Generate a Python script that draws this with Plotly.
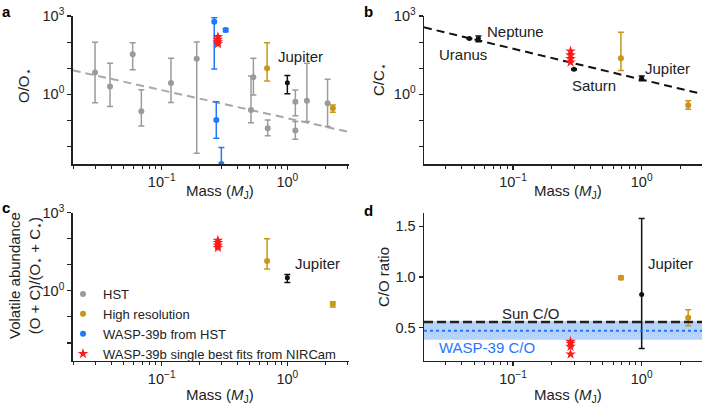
import plotly.graph_objects as go
import numpy as np

# ---------------- data ----------------
# Panel a: O/O*
hst_mass = [0.0295, 0.0388, 0.0588, 0.0689, 0.1186, 0.19, 0.537, 0.514, 0.698, 1.158, 1.158, 1.43, 2.09]
hst_oo = [6.8, 2.0, 34, 0.223, 2.7, 23, 4.48, 0.25, 0.05, 0.52, 0.041, 0.57, 0.45]
hst_oo_lo = [0.48, 0.34, 8.8, 0.061, 0.49, 0.0055, 0.94, 0.082, 0.026, 0.152, 0.019, 0.09, 0.058]
hst_oo_hi = [98, 15.4, 95, 1.51, 23.9, 100, 24, 5.0, 0.104, 1.47, 0.09, 15.4, 3.75]

w39_hst_mass = [0.262, 0.323, 0.272, 0.2985]
w39_hst_oo = [607, 290, 0.104, 0.00214]
w39_hst_oo_lo = [9.3, 250, 0.0206, 0.0005]
w39_hst_oo_hi = [863, 330, 0.52, 0.0091]

hr_mass = [0.69, 2.3]
hr_oo = [9.9, 0.29]
hr_oo_lo = [3.2, 0.205]
hr_oo_hi = [95, 0.39]

jup_mass = [1.0]
jup_oo = [2.8]
jup_oo_lo = [1.06]
jup_oo_hi = [5.2]

nircam_mass = [0.28, 0.28, 0.28, 0.28]
nircam_oo = [160, 125, 100, 85]

fit_a_mass = [0.0196, 3.11]
fit_a_oo = [8.3, 0.036]

# Panel b: C/C*
ss_mass = [0.0458, 0.0538, 0.298, 1.0]   # Uranus, Neptune, Saturn, Jupiter
ss_cc = [136, 136, 9.1, 4.1]
ss_cc_lo = [131, 104, 8.6, 3.34]
ss_cc_hi = [141, 171, 9.6, 5.04]
hr_cc = [23.9, 0.38]
hr_cc_lo = [8.1, 0.27]
hr_cc_hi = [237, 0.57]
nircam_cc = [45, 32, 23, 17]
fit_b_mass = [0.0203, 2.94]
fit_b_cc = [368, 1.03]

# Panel c: volatile abundance
hr_vol = [13.7, 0.31]
hr_vol_lo = [6.8, 0.24]
hr_vol_hi = [98, 0.38]
jup_vol = [3.15]
jup_vol_lo = [2.08]
jup_vol_hi = [4.2]
nircam_vol = [85, 70, 55, 45]

# Panel d: C/O ratio
hr_co = [0.993, 0.598]
hr_co_lo = [0.975, 0.52]
hr_co_hi = [1.01, 0.676]
jup_co = [0.827]
jup_co_lo = [0.294]
jup_co_hi = [1.578]
nircam_co = [0.363, 0.345, 0.314, 0.239]
sun_co = 0.556
wasp39_co = 0.47
wasp39_co_lo = 0.38
wasp39_co_hi = 0.565

# ---------------- style ----------------
FONT = "Liberation Sans, Arial, sans-serif"
GRAY = "#9b9b9b"
GOLD = "#c9961a"
BLUE = "#1f78ff"
RED = "#ff1a1a"
BLACK = "#111111"
AX = "#222222"

fig = go.Figure()


def err(y, lo, hi):
    y = np.array(y, float)
    return dict(type="data", symmetric=False, array=list(np.array(hi) - y),
                arrayminus=list(y - np.array(lo)), thickness=1.5, width=3)


def pts(x, y, lo, hi, color, size, xa, ya, name=None, legend=False, rank=None):
    e = err(y, lo, hi)
    e["color"] = color
    fig.add_trace(go.Scatter(x=x, y=y, mode="markers", error_y=e,
                             marker=dict(color=color, size=size),
                             xaxis=xa, yaxis=ya, name=name, showlegend=legend,
                             legendrank=rank))


def stars(x, y, xa, ya, legend=False):
    fig.add_trace(go.Scatter(x=x, y=y, mode="markers",
                             marker=dict(symbol="star", color=RED, size=8, line=dict(width=0)),
                             xaxis=xa, yaxis=ya, name="WASP-39b single best fits from NIRCam",
                             showlegend=legend, legendrank=4))


# panel a
fig.add_trace(go.Scatter(x=fit_a_mass, y=fit_a_oo, mode="lines", xaxis="x", yaxis="y",
                         line=dict(color="#a8a8a8", width=2, dash="8px,5px"), showlegend=False))
pts(hst_mass, hst_oo, hst_oo_lo, hst_oo_hi, GRAY, 6, "x", "y", "HST", True, 1)
pts(w39_hst_mass, w39_hst_oo, w39_hst_oo_lo, w39_hst_oo_hi, BLUE, 6, "x", "y", "WASP-39b from HST", True, 3)
pts(hr_mass, hr_oo, hr_oo_lo, hr_oo_hi, GOLD, 6, "x", "y", "High resolution", True, 2)
pts(jup_mass, jup_oo, jup_oo_lo, jup_oo_hi, BLACK, 5, "x", "y")
stars(nircam_mass, nircam_oo, "x", "y", True)

# panel b
fig.add_trace(go.Scatter(x=fit_b_mass, y=fit_b_cc, mode="lines", xaxis="x2", yaxis="y2",
                         line=dict(color=BLACK, width=2, dash="8px,5px"), showlegend=False))
pts(ss_mass, ss_cc, ss_cc_lo, ss_cc_hi, BLACK, 5, "x2", "y2")
pts(hr_mass, hr_cc, hr_cc_lo, hr_cc_hi, GOLD, 6, "x2", "y2")
stars(nircam_mass, nircam_cc, "x2", "y2")

# panel c
pts(hr_mass, hr_vol, hr_vol_lo, hr_vol_hi, GOLD, 6, "x3", "y3")
pts(jup_mass, jup_vol, jup_vol_lo, jup_vol_hi, BLACK, 5, "x3", "y3")
stars(nircam_mass, nircam_vol, "x3", "y3")

# panel d
pts(hr_mass, hr_co, hr_co_lo, hr_co_hi, GOLD, 6, "x4", "y4")
pts(jup_mass, jup_co, jup_co_lo, jup_co_hi, BLACK, 5, "x4", "y4")
stars(nircam_mass, nircam_co, "x4", "y4")

fig.add_shape(type="rect", xref="x4 domain", yref="y4", x0=0, x1=1, y0=wasp39_co_lo, y1=wasp39_co_hi,
              fillcolor="#b5d3fb", line=dict(width=0), layer="below")
fig.add_shape(type="line", xref="x4 domain", yref="y4", x0=0, x1=1, y0=wasp39_co, y1=wasp39_co,
              line=dict(color=BLUE, width=2, dash="dot"))
fig.add_shape(type="line", xref="x4 domain", yref="y4", x0=0, x1=1, y0=sun_co, y1=sun_co,
              line=dict(color="#222222", width=2.5, dash="9px,4px"))

# ---------------- axes ----------------
x_major = [0.1, 1.0]
x_major_text = ["10<sup>−1</sup>", "10<sup>0</sup>"]
x_minor = [0.02, 0.03, 0.04, 0.05, 0.06, 0.07, 0.08, 0.09, 0.2, 0.3, 0.4, 0.5, 0.6, 0.7, 0.8, 0.9, 2, 3]
y_log_ticks = [1e-2, 1e-1, 1, 10, 100, 1000]
y_log_text = ["", "", "10<sup>0</sup>", "", "", "10<sup>3</sup>"]

tickfont = dict(family=FONT, size=14.5, color=AX)


def xax(domain, rng, anchor):
    return dict(type="log", domain=domain, range=rng, anchor=anchor, automargin=False,
                tickmode="array", tickvals=x_major, ticktext=x_major_text,
                ticks="outside", ticklen=4, tickwidth=1.2, tickcolor=AX,
                minor=dict(tickmode="array", tickvals=x_minor, ticks="outside", ticklen=3,
                           tickwidth=1, tickcolor=AX),
                showline=True, linecolor=AX, linewidth=1.5, showgrid=False, zeroline=False,
                tickfont=tickfont)


def ylogax(domain, rng, anchor):
    return dict(type="log", domain=domain, range=rng, anchor=anchor, automargin=False,
                tickmode="array", tickvals=y_log_ticks, ticktext=y_log_text,
                ticks="outside", ticklen=4, tickwidth=1.2, tickcolor=AX,
                showline=True, linecolor=AX, linewidth=1.5, showgrid=False, zeroline=False,
                tickfont=tickfont)


W, H = 702, 404
xa_dom = [72.7 / W, 349.3 / W]
xb_dom = [424 / W, 1.0]
ya_dom = [1 - 164 / H, 1 - 16 / H]
yc_dom = [1 - 360.7 / H, 1 - 212.5 / H]

fig.update_layout(
    template="none",
    width=W, height=H, margin=dict(l=0, r=0, t=0, b=0, pad=0, autoexpand=False), autosize=False,
    paper_bgcolor="white", plot_bgcolor="white",
    font=dict(family=FONT, size=14, color=AX),
    hovermode=False,
    xaxis=xax(xa_dom, [-1.708, 0.493], "y"),
    yaxis=ylogax(ya_dom, [-2.67, 3], "x"),
    xaxis2=xax(xb_dom, [-1.692, 0.469], "y2"),
    yaxis2=ylogax(ya_dom, [-2.67, 3], "x2"),
    xaxis3=xax(xa_dom, [-1.708, 0.493], "y3"),
    yaxis3=ylogax(yc_dom, [-2.68, 3], "x3"),
    xaxis4=xax(xb_dom, [-1.692, 0.469], "y4"),
    yaxis4=dict(domain=yc_dom, range=[0.174, 1.637], anchor="x4", automargin=False,
                tickmode="array", tickvals=[0.5, 1.0, 1.5], ticktext=["0.5", "1.0", "1.5"],
                ticks="outside", ticklen=4, tickwidth=1.2, tickcolor=AX,
                showline=True, linecolor=AX, linewidth=1.5, showgrid=False, zeroline=False,
                tickfont=tickfont),
    legend=dict(x=63 / W, y=1 - 279 / H, xanchor="left", yanchor="top",
                bgcolor="rgba(0,0,0,0)", font=dict(family=FONT, size=13, color=AX),
                tracegroupgap=0, itemwidth=30),
)

ann = []


def txt(text, x, y, xref="paper", yref="paper", xanchor="center", yanchor="middle", angle=0,
        size=15, color=AX, bold=False):
    ann.append(dict(text=("<b>%s</b>" % text) if bold else text, x=x, y=y, xref=xref, yref=yref,
                    xanchor=xanchor, yanchor=yanchor, textangle=angle, showarrow=False,
                    font=dict(family=FONT, size=size, color=color)))


# panel letters
txt("a", 0, 1 - 1 / H, xanchor="left", yanchor="top", size=15, color="black", bold=True)
txt("b", 362 / W, 1 - 1 / H, xanchor="left", yanchor="top", size=15, color="black", bold=True)
txt("c", 0, 1 - 197 / H, xanchor="left", yanchor="top", size=15, color="black", bold=True)
txt("d", 362 / W, 1 - 200 / H, xanchor="left", yanchor="top", size=15, color="black", bold=True)

# axis titles
mass_title = "Mass (<i>M</i><sub>J</sub>)"
txt(mass_title, 220 / W, 1 - 191 / H)
txt(mass_title, 568 / W, 1 - 191 / H)
txt(mass_title, 220 / W, 1 - 395 / H)
txt(mass_title, 568 / W, 1 - 395 / H)
txt("O/O<sub>⋆</sub>", 25 / W, 1 - 86 / H, angle=-90)
txt("C/C<sub>⋆</sub>", 380 / W, 1 - 80 / H, angle=-90)
txt("Volatile abundance<br>(O + C)/(O<sub>⋆</sub> + C<sub>⋆</sub>)", 25 / W, 1 - 276 / H, angle=-90)
txt("C/O ratio", 383 / W, 1 - 277 / H, angle=-90)

# in-plot labels (log axes use log10 coordinates)
txt("Jupiter", -0.09, 1.43, "x", "y", xanchor="left")
txt("Neptune", -1.218, 2.425, "x2", "y2", xanchor="left")
txt("Uranus", -1.59, 1.544, "x2", "y2", xanchor="left")
txt("Saturn", -0.557, 0.356, "x2", "y2", xanchor="left")
txt("Jupiter", 0.01, 1.008, "x2", "y2", xanchor="left")
txt("Jupiter", 0.045, 1.03, "x3", "y3", xanchor="left")
txt("Jupiter", 0.033, 1.134, "x4", "y4", xanchor="left")
txt("Sun C/O", -1.10, 0.644, "x4", "y4", xanchor="left")
txt("WASP-39 C/O", -1.59, 0.30, "x4", "y4", xanchor="left", color=BLUE)

fig.update_layout(annotations=ann)
fig.write_html("out.html", config={"displayModeBar": False, "staticPlot": True},
               post_script="document.body.style.margin='0px';")
